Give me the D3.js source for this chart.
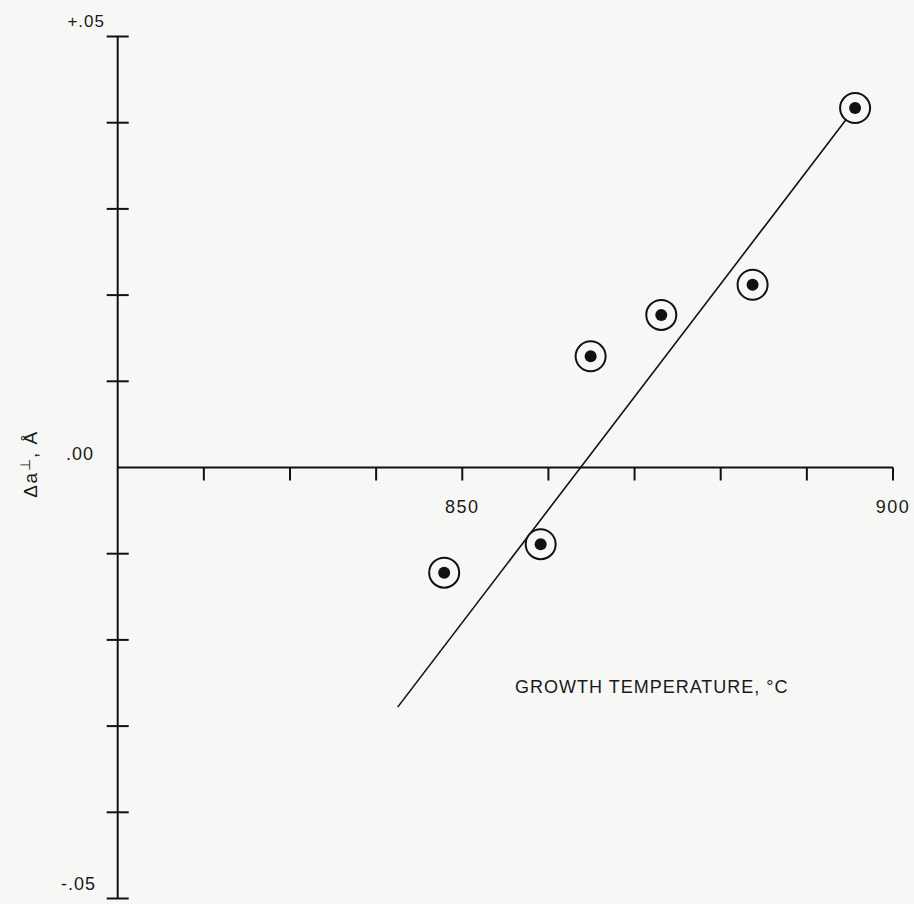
<!DOCTYPE html>
<html>
<head>
<meta charset="utf-8">
<script src="https://cdn.jsdelivr.net/npm/d3@7"></script>
<style>
  html, body { margin: 0; padding: 0; background: #f7f7f6; }
  svg { display: block; }
  text { font-family: "Liberation Sans", Arial, Helvetica, sans-serif; fill: #1a1a1a; }
</style>
</head>
<body>
<svg id="chart" width="914" height="904"></svg>
<script>
// ---- data ----
const temperatures = [847.9, 859.1, 864.9, 873.1, 883.7, 895.6];   // growth temperature, °C
const deltaA       = [-0.0122, -0.0089, 0.0129, 0.0177, 0.0212, 0.0417]; // Δa⊥, Å
const fitTemps     = [842.5, 895.2];
const fitDelta     = [-0.0278, 0.0412];
const xTicks       = [820, 830, 840, 850, 860, 870, 880, 890, 900];
const xTickLabels  = [850, 900];
const yTicks       = [-0.05, -0.04, -0.03, -0.02, -0.01, 0.01, 0.02, 0.03, 0.04, 0.05];
const yTickLabels  = ["+.05", ".00", "-.05"];
const yTickLabelValues = [0.05, 0, -0.05];

const svg = d3.select("#chart");
const x = d3.scaleLinear().domain([810, 900]).range([117.7, 893]);
const y = d3.scaleLinear().domain([-0.05, 0.05]).range([898.5, 36.5]);
const ink = "#111";

// y axis line
svg.append("line")
  .attr("x1", x(810)).attr("x2", x(810))
  .attr("y1", y(0.05)).attr("y2", y(-0.05))
  .attr("stroke", ink).attr("stroke-width", 2);
// y ticks (crossing)
svg.selectAll(".ytick").data(yTicks).enter().append("line")
  .attr("x1", x(810) - 11).attr("x2", x(810) + 11)
  .attr("y1", d => y(d)).attr("y2", d => y(d))
  .attr("stroke", ink).attr("stroke-width", 2);

// x axis line (at zero)
svg.append("line")
  .attr("x1", x(810)).attr("x2", x(900))
  .attr("y1", y(0)).attr("y2", y(0))
  .attr("stroke", ink).attr("stroke-width", 2);
// x ticks (downward)
svg.selectAll(".xtick").data(xTicks).enter().append("line")
  .attr("x1", d => x(d)).attr("x2", d => x(d))
  .attr("y1", y(0)).attr("y2", y(0) + 13)
  .attr("stroke", ink).attr("stroke-width", 2);

// x tick labels
svg.selectAll(".xlab").data(xTickLabels).enter().append("text")
  .attr("x", d => x(d)).attr("y", y(0) + 45)
  .attr("text-anchor", "middle")
  .attr("font-size", 18).attr("letter-spacing", 1.5)
  .text(d => d);

// y tick labels (offsets relative to the tick position)
const yLabOff = [
  {dx: 105, dy: -10, fs: 17},
  {dx: 94, dy: -7.5, fs: 18},
  {dx: 96, dy: -8.5, fs: 18}
];
svg.selectAll(".ylab").data(yTickLabels).enter().append("text")
  .attr("x", (d, i) => yLabOff[i].dx)
  .attr("y", (d, i) => y(yTickLabelValues[i]) + yLabOff[i].dy)
  .attr("text-anchor", "end")
  .attr("font-size", (d, i) => yLabOff[i].fs).attr("letter-spacing", 1)
  .text(d => d);

// axis titles
svg.append("text")
  .attr("x", 515).attr("y", 693)
  .attr("font-size", 18).attr("letter-spacing", 1)
  .text("GROWTH TEMPERATURE, °C");

const yt = svg.append("text")
  .attr("transform", "translate(37,464) rotate(-90)")
  .attr("text-anchor", "middle")
  .attr("font-size", 19).attr("letter-spacing", 1.5);
yt.append("tspan").text("Δa");
yt.append("tspan").attr("font-size", 14).attr("dy", -7).text("⊥");
yt.append("tspan").attr("dy", 7).text(", Å");

// fit line
svg.append("line")
  .attr("x1", x(fitTemps[0])).attr("y1", y(fitDelta[0]))
  .attr("x2", x(fitTemps[1])).attr("y2", y(fitDelta[1]))
  .attr("stroke", ink).attr("stroke-width", 1.6);

// points
const pts = temperatures.map((t, i) => ({t, d: deltaA[i]}));
const g = svg.selectAll(".pt").data(pts).enter().append("g")
  .attr("transform", p => `translate(${x(p.t)},${y(p.d)})`);
g.append("circle").attr("r", 15).attr("fill", "#f7f7f6")
  .attr("stroke", ink).attr("stroke-width", 2);
g.append("circle").attr("r", 6).attr("fill", ink);
</script>
</body>
</html>
